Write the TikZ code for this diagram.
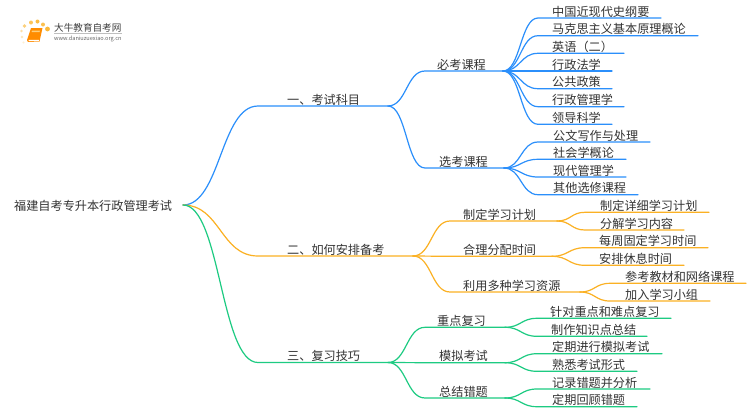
\documentclass[tikz,border=0pt]{standalone}
\usepackage{fontspec}
\setmainfont{Noto Sans CJK SC}
\usetikzlibrary{calc}
\definecolor{cblue}{HTML}{2B8FFB}
\definecolor{corange}{HTML}{FBB124}
\definecolor{cgreen}{HTML}{1DCB82}
\definecolor{ctext}{HTML}{333333}
\tikzset{
  bez/.style={to path={let \p1=(\tikztostart),\p2=(\tikztotarget),\n1={(\x1+\x2)/2} in .. controls (\n1,\y1) and (\n1,\y2) .. (\tikztotarget)}},
  wire/.style={line width=1.2pt,line cap=round},
  lab/.style={anchor=west,inner sep=0pt,text=ctext,font=\fontsize{12.15}{12.15}\selectfont},
}
% \branch{name}{parent hub}{colour}{curve end x}{line end x}{y}{text x}{text}
\newcommand{\branch}[8]{%
  \coordinate (#1s) at (#4,#6);
  \coordinate (#1) at (#5,#6);
  \node[lab] (#1t) at (#7,#6-6.5) {#8};
  \draw[wire,#3] (#2) to[bez] (#1s) -- (#1);
}
\begin{document}
\begin{tikzpicture}[x=1pt,y=-1pt]
\useasboundingbox (0,0) rectangle (750,410);
\fill[white] (0,0) rectangle (750,410);
% logo
\foreach \px/\py/\pr/\po in {24.5/26/1.8/.6,31/22.5/2/.75,37.5/21.5/2/.85,43/24.5/2/.8,47.5/29/2.4/.9,21.5/31/1.4/.4,22/37/1.3/.3,23.5/42.5/1.1/.2}
  \fill[corange,opacity=\po] (\px,\py) circle (\pr);
\fill[orange!90!yellow] (31,28) -- (42.5,28) -- (39.5,41.5) -- (28,42) -- (27,40) -- cycle;
\fill[white] (28.5,40) -- (39,39.8) -- (38.8,41) -- (28.8,41.2) -- cycle;
\fill[corange!60!white] (32,30.5) -- (40,30.5) -- (39.6,32) -- (31.6,32) -- cycle;
\node[anchor=west,inner sep=0pt,text=black!75,font=\fontsize{9.6}{10}\selectfont] (logoa) at (54,27.5) {大牛教育自考网};
\draw[black!25,line width=.4pt] (54,33.5) -- (122,33.5);
\node[anchor=west,inner sep=0pt,text=black!60,font=\fontsize{5.6}{6}\selectfont] (logob) at (54,38.7) {www.daniuzuexiao.org.cn};
% root
\coordinate (hub) at (183,205);
\node[lab] (root) at (14,205.7) {福建自考专升本行政管理考试};
% level 1
\branch{A}{hub}{cblue}{258}{388}{106}{287}{一、考试科目}
\branch{B}{hub}{corange}{258}{413}{256}{287}{二、如何安排备考}
\branch{C}{hub}{cgreen}{258}{388}{362.5}{287}{三、复习技巧}
% level 2 blue
\branch{Aa}{A}{cblue}{425}{503}{71}{437}{必考课程}
\branch{Ab}{A}{cblue}{425}{504}{168}{439}{选考课程}
\branch{Aa1}{Aa}{cblue}{538}{661}{18}{552}{中国近现代史纲要}
\branch{Aa2}{Aa}{cblue}{538}{698}{35.7}{552}{马克思主义基本原理概论}
\branch{Aa3}{Aa}{cblue}{538}{624}{53.3}{552}{英语（二）}
\branch{Aa4}{Aa}{cblue}{538}{612}{71}{552}{行政法学}
\branch{Aa5}{Aa}{cblue}{538}{612}{88.7}{552}{公共政策}
\branch{Aa6}{Aa}{cblue}{538}{624}{106.7}{552}{行政管理学}
\branch{Aa7}{Aa}{cblue}{538}{612}{124.3}{552}{领导科学}
\branch{Ab1}{Ab}{cblue}{538}{650}{142}{553}{公文写作与处理}
\branch{Ab2}{Ab}{cblue}{538}{626}{159.3}{553}{社会学概论}
\branch{Ab3}{Ab}{cblue}{538}{626}{177}{553}{现代管理学}
\branch{Ab4}{Ab}{cblue}{538}{638}{194.7}{553}{其他选修课程}
% level 2 orange
\branch{Ba}{B}{corange}{450}{557}{221}{463}{制定学习计划}
\branch{Bb}{B}{corange}{450}{552}{256.3}{463}{合理分配时间}
\branch{Bc}{B}{corange}{450}{580}{292}{463}{利用多种学习资源}
\branch{Ba1}{Ba}{corange}{585}{709}{212.3}{600}{制定详细学习计划}
\branch{Ba2}{Ba}{corange}{585}{684}{230}{600}{分解学习内容}
\branch{Bb1}{Bb}{corange}{585}{708}{247.7}{599}{每周固定学习时间}
\branch{Bb2}{Bb}{corange}{585}{684}{265.3}{599}{安排休息时间}
\branch{Bc1}{Bc}{corange}{610}{746}{283.3}{625}{参考教材和网络课程}
\branch{Bc2}{Bc}{corange}{610}{710}{301}{625}{加入学习小组}
% level 2 green
\branch{Ca}{C}{cgreen}{425}{505}{327.3}{437}{重点复习}
\branch{Cb}{C}{cgreen}{425}{505}{362.7}{439}{模拟考试}
\branch{Cc}{C}{cgreen}{425}{505}{398}{439}{总结错题}
\branch{Ca1}{Ca}{cgreen}{537}{671}{318.3}{550}{针对重点和难点复习}
\branch{Ca2}{Ca}{cgreen}{537}{647}{336.3}{551}{制作知识点总结}
\branch{Cb1}{Cb}{cgreen}{537}{662}{353.7}{552}{定期进行模拟考试}
\branch{Cb2}{Cb}{cgreen}{537}{637}{371.3}{552}{熟悉考试形式}
\branch{Cc1}{Cc}{cgreen}{537}{650}{389}{552}{记录错题并分析}
\branch{Cc2}{Cc}{cgreen}{537}{637}{406.7}{552}{定期回顾错题}
\end{tikzpicture}
\end{document}
